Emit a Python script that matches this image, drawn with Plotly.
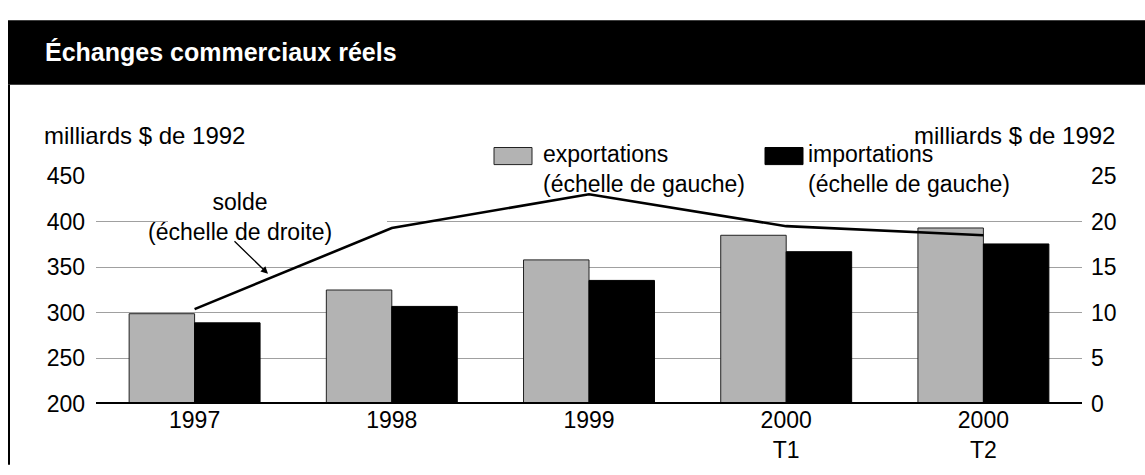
import plotly.graph_objects as go

categories = ["1997", "1998", "1999", "2000<br>T1", "2000<br>T2"]
exportations = [299, 325, 358, 385, 393]
importations = [289, 307, 335.5, 367, 375.5]
solde = [10.4, 19.3, 23.0, 19.5, 18.5]
left_ticks = [200, 250, 300, 350, 400, 450]
right_ticks = [0, 5, 10, 15, 20, 25]

FONT = "Liberation Sans, Arial, Helvetica, sans-serif"
TITLE_FONT = "Liberation Sans, Arial, sans-serif"

# plot area in pixels
L, R, T, B = 96, 1082, 176, 416
W, H = R - L, B - T


def px(x):
    return (x - L) / W


def py(y):
    return (B - y) / H


fig = go.Figure()
fig.add_trace(go.Bar(x=categories, y=exportations, name="exportations",
                     marker=dict(color="#b3b3b3", line=dict(color="#222222", width=1)),
                     showlegend=False))
fig.add_trace(go.Bar(x=categories, y=importations, name="importations",
                     marker=dict(color="#000000", line=dict(color="#000000", width=1)),
                     showlegend=False))
fig.add_trace(go.Scatter(x=categories, y=solde, yaxis="y2", mode="lines",
                         line=dict(color="#000000", width=2.6), showlegend=False))

shapes = [
    # title bar
    dict(type="rect", xref="paper", yref="paper", x0=px(8), x1=px(1160), y0=py(80), y1=py(12),
         fillcolor="#000000", line=dict(width=0), layer="above"),
    # left border
    dict(type="line", xref="paper", yref="paper", x0=px(9), x1=px(9), y0=py(80), y1=py(480),
         line=dict(color="#000000", width=2)),
    # baseline
    dict(type="line", xref="paper", yref="y", x0=0, x1=1, y0=200, y1=200,
         line=dict(color="#000000", width=4), layer="above"),
    # white backgrounds behind labels
    dict(type="rect", xref="paper", yref="paper", x0=px(530), x1=px(1015), y0=py(186), y1=py(168),
         fillcolor="#ffffff", line=dict(width=0), layer="above"),
    dict(type="rect", xref="paper", yref="paper", x0=px(168), x1=px(387), y0=py(228), y1=py(220),
         fillcolor="#ffffff", line=dict(width=0), layer="above"),
    # legend swatches
    dict(type="rect", xref="paper", yref="paper", x0=px(494), x1=px(532), y0=py(164), y1=py(146),
         fillcolor="#b3b3b3", line=dict(color="#222222", width=1), layer="above"),
    dict(type="rect", xref="paper", yref="paper", x0=px(765), x1=px(803), y0=py(164), y1=py(146),
         fillcolor="#000000", line=dict(color="#000000", width=1), layer="above"),
]


def txt(text, x, y, xanchor, size=24, color="#000000", family=FONT, bold=False, align="left"):
    return dict(text=("<b>%s</b>" % text) if bold else text, xref="paper", yref="paper",
                x=px(x), y=py(y), xanchor=xanchor, yanchor="middle", showarrow=False,
                align=align, font=dict(family=family, size=size, color=color))


annotations = [
    txt("Échanges commerciaux réels", 43, 45, "left", size=25, color="#ffffff",
        family=TITLE_FONT, bold=True),
    txt("milliards $ de 1992", 42, 133, "left"),
    txt("milliards $ de 1992", 1117, 133, "right"),
    txt("solde<br>(échelle de droite)", 240, 219, "center", size=23, align="center"),
    txt("exportations<br>(échelle de gauche)", 541, 169, "left", size=23),
    txt("importations<br>(échelle de gauche)", 806, 169, "left", size=23),
    dict(text="", xref="paper", yref="paper", x=px(268), y=py(279), showarrow=True,
         ax=-35, ay=-34, arrowhead=2, arrowsize=1.1, arrowwidth=1.3, arrowcolor="#000000"),
]

fig.update_layout(
    width=1145, height=475,
    margin=dict(l=L, r=1145 - R, t=T, b=475 - B, pad=0),
    paper_bgcolor="#ffffff", plot_bgcolor="#ffffff",
    barmode="group", bargap=0.336, bargroupgap=0,
    font=dict(family=FONT, size=23, color="#000000"),
    xaxis=dict(type="category", range=[-0.5, 4.5], showgrid=False, showline=False,
               ticks="", tickfont=dict(size=23), fixedrange=True),
    yaxis=dict(range=[200, 450], tickvals=left_ticks, showgrid=True, gridcolor="#a0a0a0",
               gridwidth=1, zeroline=False, showline=False, ticks="",
               ticklabelstandoff=10, tickfont=dict(size=23)),
    yaxis2=dict(range=[0, 25], tickvals=right_ticks, overlaying="y", side="right",
                showgrid=False, zeroline=False, showline=False, ticks="",
                ticklabelstandoff=8, tickfont=dict(size=23)),
    shapes=shapes,
    annotations=annotations,
)

fig.write_html(
    "out.html",
    config={"staticPlot": True, "displayModeBar": False},
    post_script="document.body.style.margin='0';document.body.style.overflow='hidden';",
)
